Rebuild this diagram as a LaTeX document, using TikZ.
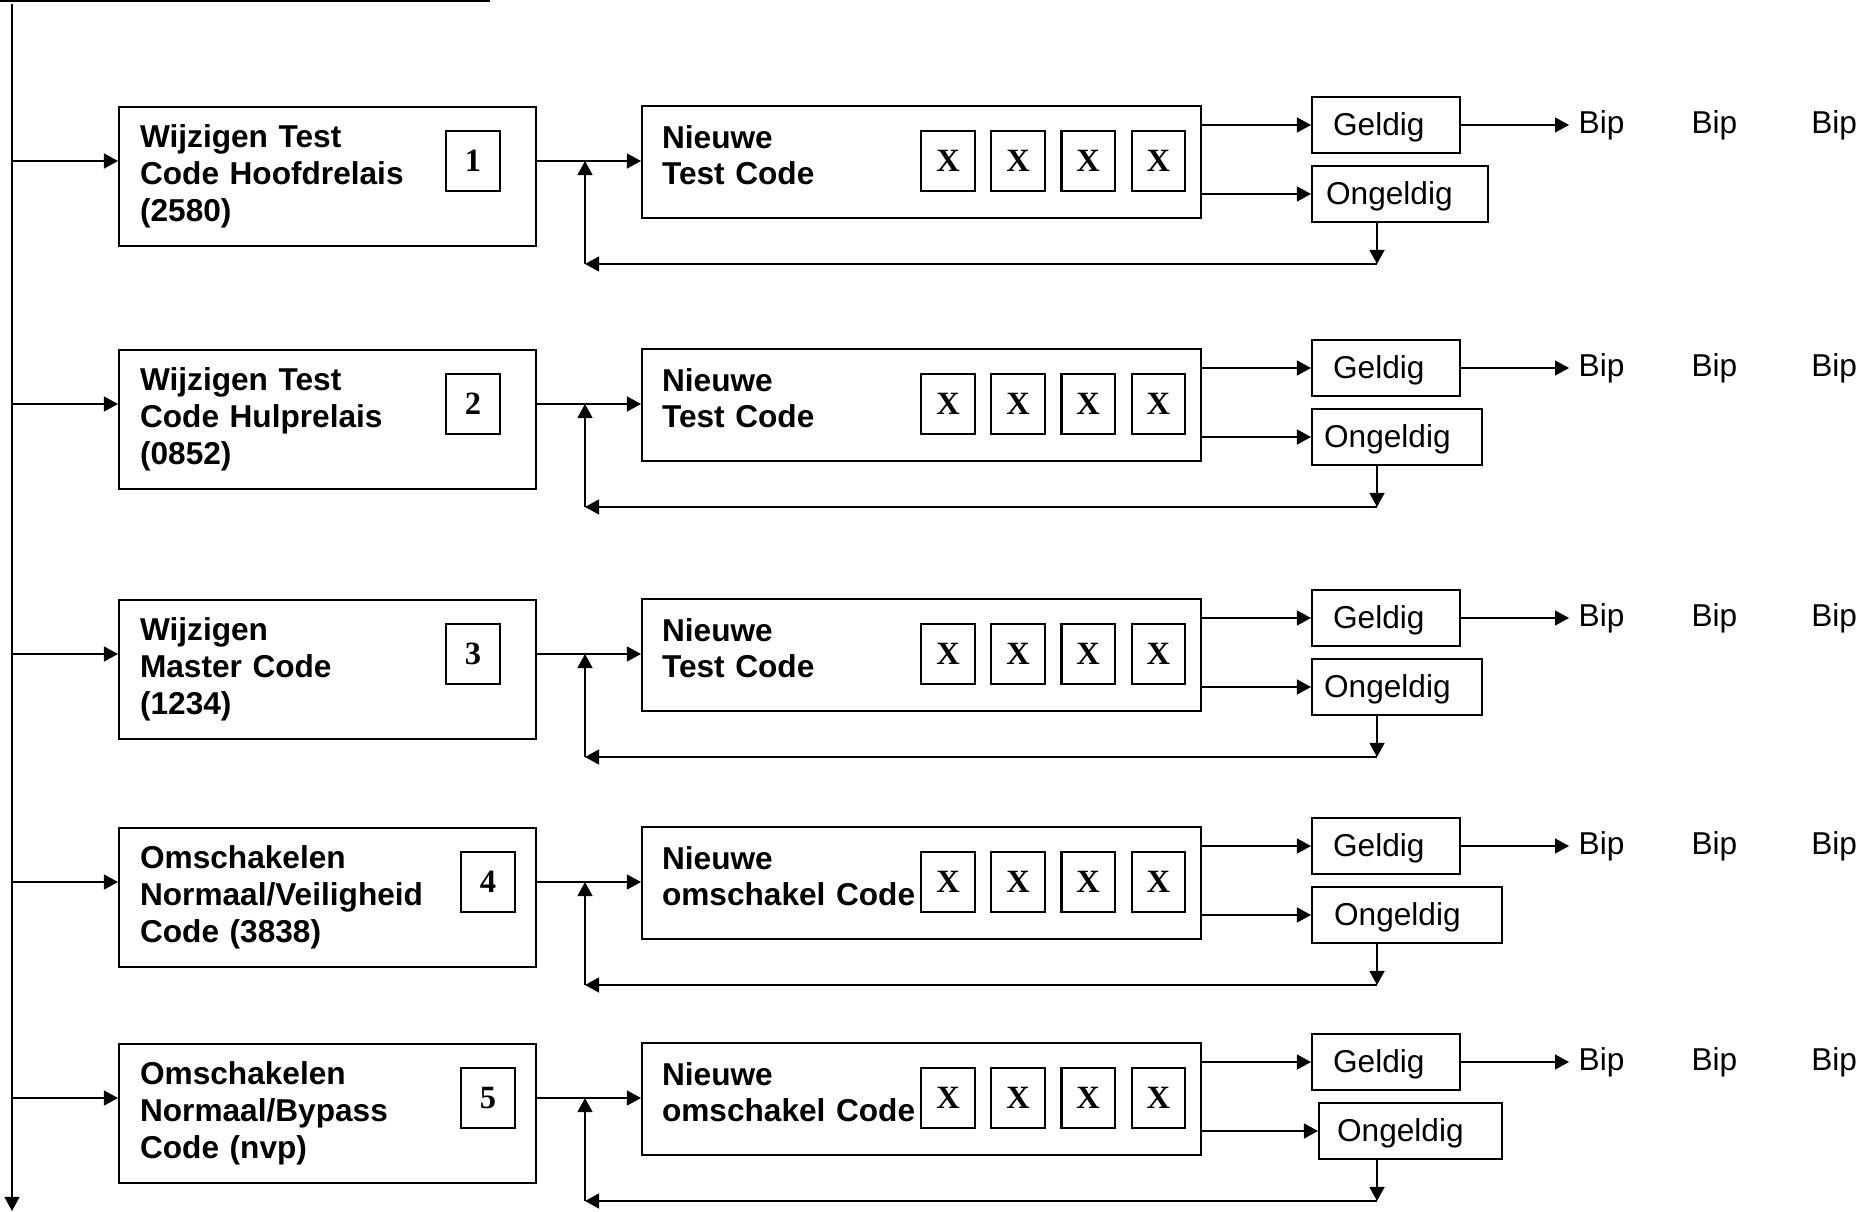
\documentclass[tikz,border=0pt]{standalone}
\usepackage{fontspec}
\setmainfont{Liberation Sans}
\newfontfamily\xfont{Liberation Serif}
\usetikzlibrary{arrows.meta,positioning,calc}
\tikzstyle{menu} = [draw, line width=1.2pt, anchor=north west, minimum height=2.78cm, text width=7.5cm, inner xsep=0.42cm, align=left, font=\bfseries\fontsize{18}{21}\selectfont]
\tikzstyle{entry} = [draw, line width=1.2pt, anchor=north west, minimum height=2.24cm, text width=10.38cm, text depth=29pt, inner xsep=0.4cm, align=left, font=\bfseries\fontsize{18}{21}\selectfont]
\tikzstyle{digit} = [draw, line width=1.2pt, minimum width=1.07cm, minimum height=1.2cm, inner sep=0pt, font=\xfont\bfseries\fontsize{18.5}{21}\selectfont]
\tikzstyle{result} = [draw, line width=1.2pt, anchor=west, minimum height=1.13cm, text depth=1pt, align=left, font=\fontsize{18}{21}\selectfont]
\tikzstyle{bip} = [inner xsep=5pt, font=\fontsize{18}{21}\selectfont]

\begin{document}
\begin{tikzpicture}[->,>={Triangle[length=8pt,width=8.5pt]},x=0.02cm,y=-0.02cm,line width=0.9pt]
            \useasboundingbox (0,0) rectangle (1875,1212);

            \coordinate (TopL) at (0,1);
            \coordinate (TopR) at (490,1);
            \coordinate (TrunkTop) at (12,4);
            \coordinate (TrunkEnd) at (12,1211);
            \draw[-] (TopL) -- (TopR);
            \draw (TrunkTop) -- (TrunkEnd);

            \foreach \i/\y/\txt/\nx/\word/\ol/\ow/\gap in {
                1/161/{Wijzigen Test\\Code Hoofdrelais\\(2580)}/473/Test/1311/176/14,
                2/404/{Wijzigen Test\\Code Hulprelais\\(0852)}/473/Test/1311/170/12,
                3/654/{Wijzigen\\Master Code\\(1234)}/473/Test/1311/170/12,
                4/882/{Omschakelen\\Normaal/Veiligheid\\Code (3838)}/488/omschakel/1311/190/22,
                5/1098/{Omschakelen\\Normaal/Bypass\\Code (nvp)}/488/omschakel/1318/183/18}
            {
                \pgfmathsetmacro{\tw}{(\ow-2*\gap)*0.02}
                \node[menu] (Menu\i) at (118,\y-55) {\txt};
                \node[digit] (Num\i) at (\nx,\y) {\i};
                \node[entry] (New\i) at (641,\y-56) {Nieuwe\\\word\ Code};
                \node[digit] (Xa\i) at (948,\y) {X};
                \node[digit,right=0.29cm of Xa\i] (Xb\i) {X};
                \node[digit,right=0.29cm of Xb\i] (Xc\i) {X};
                \node[digit,right=0.29cm of Xc\i] (Xd\i) {X};
                \node[result,text width=2.12cm,inner xsep=0.42cm] (Ok\i) at (1311,\y-36) {Geldig};
                \node[result,text width=\tw cm,inner xsep=\gap*0.02cm] (Bad\i) at (\ol,\y+33) {Ongeldig};
                \node[bip,right=2.16cm of Ok\i] (BipA\i) {Bip};
                \node[bip,right=0.96cm of BipA\i] (BipB\i) {Bip};
                \node[bip,right=1.1cm of BipB\i] (BipC\i) {Bip};
                \coordinate (Tap\i) at (585,\y);
                \coordinate (Back\i) at (1377,\y+103);

                \draw (TrunkTop |- Tap\i) -- (Menu\i.west |- Tap\i);
                \draw (Menu\i.east |- Tap\i) -- (New\i.west |- Tap\i);
                \draw (New\i.east |- Ok\i) -- (Ok\i);
                \draw (New\i.east |- Bad\i) -- (Bad\i);
                \draw (Ok\i) -- (BipA\i);
                \draw (Bad\i.south -| Back\i) -- (Back\i);
                \draw (Back\i) -- (Back\i -| Tap\i);
                \draw (Back\i -| Tap\i) -- (Tap\i);
            }
        \end{tikzpicture}
\end{document}
